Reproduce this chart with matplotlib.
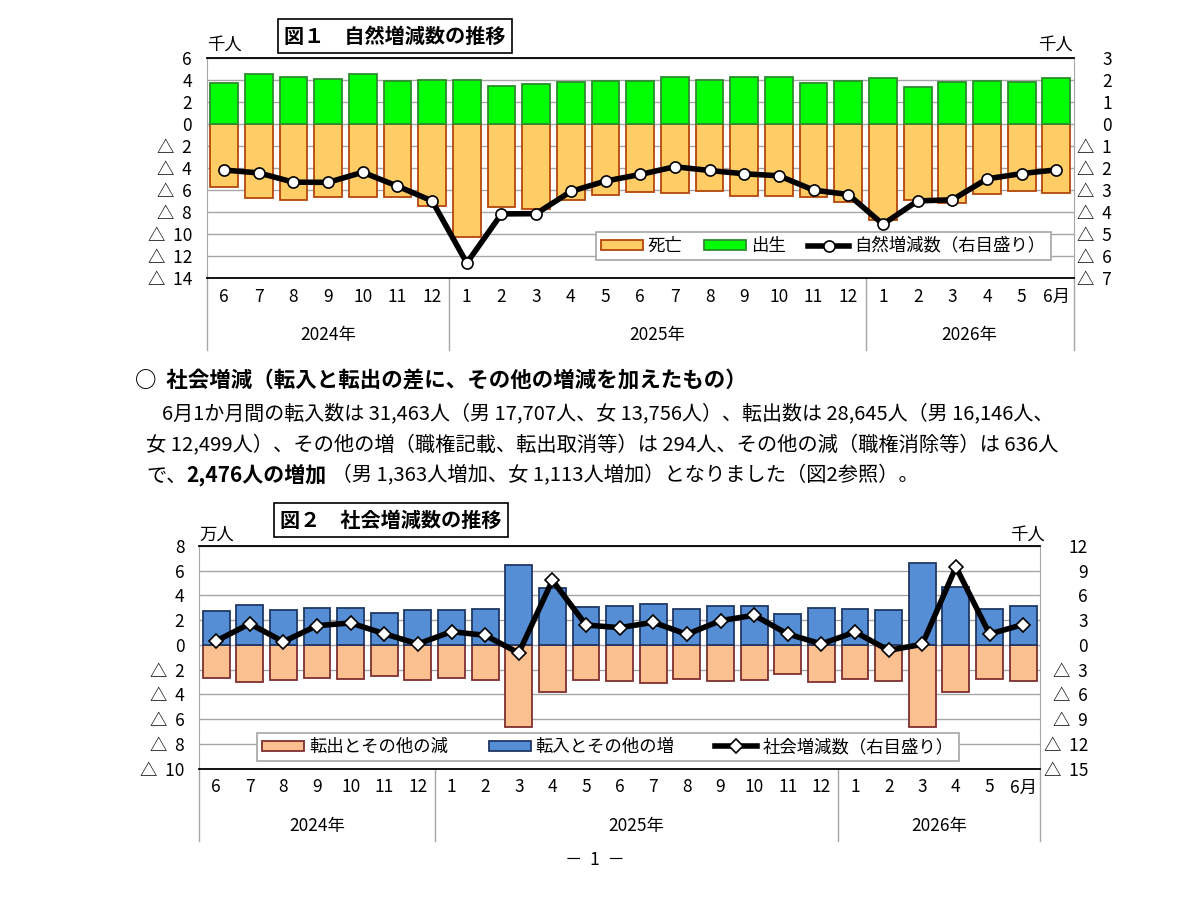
import matplotlib
matplotlib.use("Agg")
import matplotlib.pyplot as plt
from matplotlib.lines import Line2D
from matplotlib.patches import Patch
import matplotlib.transforms as mtransforms

plt.rcParams['font.family'] = ['Noto Sans CJK JP', 'DejaVu Sans']

# ---------------- data ----------------
months = ["6", "7", "8", "9", "10", "11", "12", "1", "2", "3", "4", "5",
          "6", "7", "8", "9", "10", "11", "12", "1", "2", "3", "4", "5", "6月"]
years = ["2024年", "2025年", "2026年"]
year_spans = [(0, 7), (7, 19), (19, 25)]

# Figure 1 (thousand persons)
births = [3.73, 4.55, 4.27, 4.04, 4.49, 3.85, 3.94, 3.94, 3.45, 3.61, 3.79, 3.85,
          3.85, 4.25, 4.00, 4.25, 4.25, 3.70, 3.88, 4.15, 3.34, 3.76, 3.85, 3.82, 4.15]
deaths = [-5.78, -6.75, -6.94, -6.66, -6.63, -6.66, -7.42, -10.30, -7.57, -7.70, -6.88, -6.42,
          -6.18, -6.24, -6.12, -6.54, -6.60, -6.66, -7.12, -8.75, -6.88, -7.18, -6.33, -6.09, -6.27]
natural = [-2.10, -2.23, -2.65, -2.66, -2.20, -2.83, -3.50, -6.32, -4.09, -4.08, -3.07, -2.60,
           -2.30, -1.95, -2.12, -2.27, -2.36, -3.01, -3.21, -4.56, -3.50, -3.45, -2.50, -2.26, -2.09]

# Figure 2 (inflow/outflow in 10 thousand persons, net in thousand persons)
inflow = [2.72, 3.26, 2.83, 2.96, 3.02, 2.61, 2.86, 2.83, 2.91, 6.44, 4.58, 3.07,
          3.13, 3.34, 2.88, 3.15, 3.13, 2.53, 2.96, 2.88, 2.83, 6.63, 4.72, 2.88, 3.18]
outflow = [-2.69, -2.99, -2.80, -2.69, -2.75, -2.48, -2.86, -2.67, -2.80, -6.60, -3.83, -2.83,
           -2.94, -3.07, -2.75, -2.91, -2.80, -2.37, -2.96, -2.72, -2.91, -6.63, -3.77, -2.75, -2.93]
social = [0.48, 2.58, 0.40, 2.34, 2.67, 1.37, 0.12, 1.62, 1.17, -0.97, 7.84, 2.42,
          2.10, 2.75, 1.29, 2.95, 3.60, 1.33, 0.12, 1.58, -0.65, 0.08, 9.45, 1.33, 2.48]

left1_ticks = [6, 4, 2, 0, -2, -4, -6, -8, -10, -12, -14]
right1_ticks = [3, 2, 1, 0, -1, -2, -3, -4, -5, -6, -7]
left2_ticks = [8, 6, 4, 2, 0, -2, -4, -6, -8, -10]
right2_ticks = [12, 9, 6, 3, 0, -3, -6, -9, -12, -15]

W, H = 1190, 910
fig = plt.figure(figsize=(W / 100, H / 100), dpi=100)


def fx(px):
    return px / W


def fy(py):
    return 1 - py / H


def tri(v):
    return str(v) if v >= 0 else "△  " + str(-v)


GRID = "#A6A6A6"
FS = 12.5


def make_chart(rect, left_ticks, right_ticks, bars, line, marker, msize, legend_rect,
               legend_labels, left_pad, right_pad):
    ax = fig.add_axes(rect)
    x = list(range(len(months)))
    for vals, fc, ec in bars:
        ax.bar(x, vals, width=0.8, color=fc, edgecolor=ec, linewidth=1.3, zorder=3)
    ax.set_xlim(-0.5, len(months) - 0.5)
    ax.set_ylim(min(left_ticks), max(left_ticks))
    ax.set_yticks(left_ticks)
    ax.set_yticklabels([tri(v) for v in left_ticks], fontsize=FS)
    ax.tick_params(axis='y', length=0, pad=left_pad)
    ax.set_xticks(x)
    ax.set_xticklabels(months, fontsize=FS)
    ax.tick_params(axis='x', length=0, pad=7)
    ax.yaxis.grid(True, color=GRID, lw=1.0, zorder=0)
    ax.set_axisbelow(True)
    for s in ['left', 'right']:
        ax.spines[s].set_color(GRID)
    ax.spines['top'].set_color('black')
    ax.spines['bottom'].set_color('black')
    ax.spines['bottom'].set_linewidth(1.3)
    ax.spines['top'].set_linewidth(1.3)

    ax2 = ax.twinx()
    ax2.plot(x, line, color='black', lw=4, marker=marker, ms=msize, mfc='white',
             mec='black', mew=1.2, zorder=5)
    ax2.set_ylim(min(right_ticks), max(right_ticks))
    ax2.set_yticks(right_ticks)
    ax2.set_yticklabels([tri(v) for v in right_ticks], fontsize=FS)
    ax2.tick_params(axis='y', length=0, pad=right_pad)
    for lab in ax2.get_yticklabels():
        lab.set_horizontalalignment('right')
    for s in ax2.spines.values():
        s.set_visible(False)

    # category separators and year labels
    trans = mtransforms.blended_transform_factory(ax.transData, ax.transAxes)
    hpx = rect[3] * H
    for b in [0, 7, 19, 25]:
        ax.add_line(Line2D([b - 0.5, b - 0.5], [0, -72 / hpx], transform=trans, color=GRID,
                           lw=1.0, clip_on=False))
    for yl, (a, b) in zip(years, year_spans):
        ax.text((a + b - 1) / 2, -57 / hpx, yl, transform=trans, ha='center',
                va='center', fontsize=FS)

    # legend
    handles = [Patch(facecolor=bars[0][1], edgecolor=bars[0][2], lw=1.3),
               Patch(facecolor=bars[1][1], edgecolor=bars[1][2], lw=1.3),
               Line2D([], [], color='black', lw=4, marker=marker, ms=msize, mfc='white',
                      mec='black', mew=1.2)]
    leg = fig.legend(handles, legend_labels, ncol=3, loc='upper left',
                     bbox_to_anchor=legend_rect, bbox_transform=fig.transFigure, mode='expand',
                     fontsize=FS, frameon=True, fancybox=False, framealpha=1,
                     edgecolor=GRID, borderaxespad=0, handlelength=2.4, handleheight=0.55,
                     columnspacing=1.0, handletextpad=0.3, borderpad=0.3)
    leg.get_frame().set_linewidth(1.2)
    leg.set_zorder(10)
    return ax, ax2


def rect_px(x0, y0, x1, y1):
    return [fx(x0), fy(y1), fx(x1) - fx(x0), fy(y0) - fy(y1)]


# ---------------- figure 1 ----------------
make_chart(rect_px(206.7, 57.7, 1073.7, 278), left1_ticks, right1_ticks,
           [(deaths, '#FFCC66', '#B5470B'), (births, '#00FF00', '#2E8B2E')],
           natural, 'o', 8,
           rect_px(595.7, 232, 1051, 265),
           ["死亡", "出生", "自然増減数（右目盛り）"], 10.6, 27.6)

fig.text(fx(395), fy(36), "図１　自然増減数の推移", ha='center', va='center', fontsize=14.5,
         fontweight='bold',
         bbox=dict(boxstyle='square,pad=0.3', fc='white', ec='black', lw=1.2))
fig.text(fx(207), fy(45), "千人", ha='left', va='center', fontsize=FS)
fig.text(fx(1073), fy(45), "千人", ha='right', va='center', fontsize=FS)

# ---------------- text block ----------------
renderer = fig.canvas.get_renderer()


def fit(text, x0, x1, yc, weight='normal', base=14.0):
    t = fig.text(fx(x0), fy(yc), text, ha='left', va='center', fontsize=base,
                 fontweight=weight)
    w = t.get_window_extent(renderer).width
    t.set_fontsize(base * (x1 - x0) / w)
    return t


fit("○  社会増減（転入と転出の差に、その他の増減を加えたもの）", 135, 748, 381, 'bold')
fit("6月1か月間の転入数は 31,463人（男 17,707人、女 13,756人）、転出数は 28,645人（男 16,146人、",
    162, 1057, 414)
l3 = fit("女 12,499人）、その他の増（職権記載、転出取消等）は 294人、その他の減（職権消除等）は 636人",
         146, 1062, 446)
TFS = l3.get_fontsize()

# last line: regular + bold + regular pieces
t1 = fig.text(fx(146), fy(476), "で、", ha='left', va='center', fontsize=TFS)
ann2 = plt.annotate("2,476人の増加", xy=(1, 0.5), xycoords=t1, ha='left', va='center',
                    fontsize=TFS + 0.5, fontweight='bold', annotation_clip=False)
ann3 = plt.annotate(" （男 1,363人増加、女 1,113人増加）となりました（図2参照）。", xy=(1, 0.5),
                    xycoords=ann2, ha='left', va='center', fontsize=TFS, annotation_clip=False)

# ---------------- figure 2 ----------------
make_chart(rect_px(199.3, 546, 1040, 768.7), left2_ticks, right2_ticks,
           [(outflow, '#FAC090', '#7F2F2F'), (inflow, '#558ED5', '#1F3864')],
           social, 'D', 7,
           rect_px(257, 732.7, 958.7, 758.7),
           ["転出とその他の減", "転入とその他の増", "社会増減数（右目盛り）"], 10.8, 34.6)

fig.text(fx(391), fy(520), "図２　社会増減数の推移", ha='center', va='center', fontsize=14.5,
         fontweight='bold',
         bbox=dict(boxstyle='square,pad=0.3', fc='white', ec='black', lw=1.2))
fig.text(fx(199), fy(535), "万人", ha='left', va='center', fontsize=FS)
fig.text(fx(1045), fy(535), "千人", ha='right', va='center', fontsize=FS)

fig.text(fx(595), fy(860), "－  1  －", ha='center', va='center', fontsize=12.5)

fig.savefig("out.png", dpi=100, facecolor='white')
